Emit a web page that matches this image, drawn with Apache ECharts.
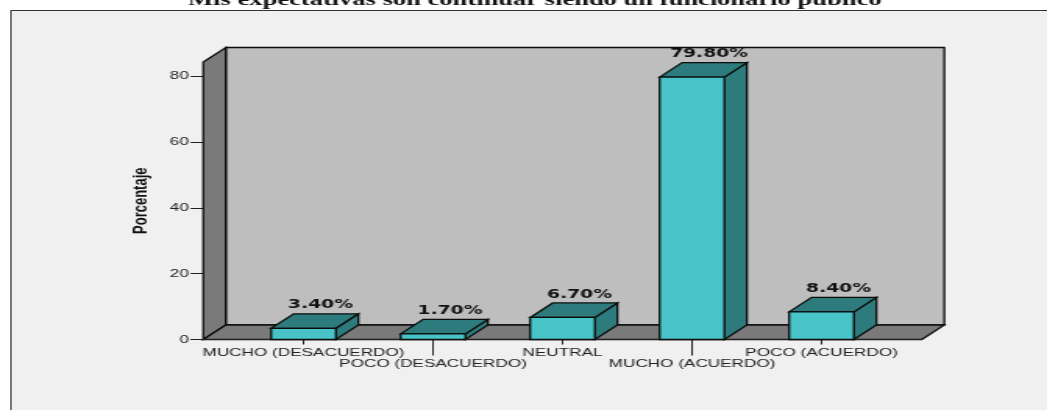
<!DOCTYPE html>
<html><head><meta charset="utf-8">
<script src="https://cdn.jsdelivr.net/npm/echarts@6/dist/echarts.min.js"></script>
<style>
html,body{margin:0;padding:0;background:#fff;overflow:hidden;width:1047px;height:410px}
#panel{position:absolute;left:10px;top:10px;width:1037px;height:400px;background:#f0f0f0;border-top:1px solid #333;border-left:2px solid #777;box-sizing:border-box}
#c{position:absolute;left:0;top:0;width:671px;height:410px;transform-origin:0 0;transform:scaleX(1.5604)}
</style></head><body>
<div id="panel"></div><div id="c"></div>
<script>
const titleText = 'Mis expectativas son continuar siendo un funcionario público';
const categories = ['MUCHO (DESACUERDO)','POCO (DESACUERDO)','NEUTRAL','MUCHO (ACUERDO)','POCO (ACUERDO)'];
const values = [3.4,1.7,6.7,79.8,8.4];
const yTicks = [0,20,40,60,80];
const yMax = 84.4;
const SX = 1047/671;
const depthX = 22.5/SX, depthY = 14.5, sideX = 35.5/SX;
const stroke = '#0c0c0c';
const chart = echarts.init(document.getElementById('c'), null, {renderer:'canvas'});
function poly(points, fill){return {type:'polygon',shape:{points},style:{fill,stroke,lineWidth:1.3}};}
chart.setOption({
  animation:false,
  title:{text:titleText,left:527/SX,textAlign:'center',top:-13,textStyle:{fontFamily:'Liberation Serif',fontWeight:'bold',fontSize:17,color:'#111'}},
  grid:{left:238.75/SX,width:647.5/SX,top:62,height:277.5},
  xAxis:{type:'category',data:categories,
    axisLine:{show:false},axisTick:{show:false},
    axisLabel:{interval:0,hideOverlap:false,margin:7.5,fontFamily:'Liberation Sans',fontSize:11,lineHeight:11,color:'#222',
      verticalAlign:'top',formatter:(v,i)=>i%2?'\n'+v:v}},
  yAxis:{type:'value',min:0,max:yMax,offset:35.75/SX,
    name:'Porcentaje',nameLocation:'middle',nameGap:33,nameRotate:90,
    nameTextStyle:{fontFamily:'Liberation Sans',fontWeight:'bold',fontSize:13,color:'#111'},
    splitLine:{show:false},axisLine:{show:false},
    axisTick:{show:true,length:8,customValues:yTicks,lineStyle:{color:'#222'}},
    axisLabel:{margin:9,customValues:yTicks,fontFamily:'Liberation Sans',fontSize:11,color:'#222'}},
  series:[
    {type:'custom',silent:true,z:1,data:[[0,0]],renderItem(params,api){
      const half=api.size([1,0])[0]/2;
      const fl=api.coord([0,0])[0]-half-sideX+0, fr=api.coord([categories.length-1,0])[0]+half+sideX;
      const y0=api.coord([0,0])[1], yT=api.coord([0,yMax])[1];
      const children=[
        poly([[fl+depthX,yT-depthY],[fr+depthX,yT-depthY],[fr+depthX,y0-depthY],[fl+depthX,y0-depthY]],'#bebebe'),
        poly([[fl,yT],[fl+depthX,yT-depthY],[fl+depthX,y0-depthY],[fl,y0]],'#7a7a7a'),
        poly([[fl,y0],[fl+depthX,y0-depthY],[fr+depthX,y0-depthY],[fr,y0]],'#7a7a7a'),
        {type:'line',shape:{x1:fl-8,y1:y0,x2:fr,y2:y0},style:{stroke:'#222',lineWidth:1}}
      ];
      return {type:'group',children};
    }},
    {type:'custom',silent:true,z:2,data:values.map((v,i)=>[i,v]),encode:{x:0,y:1},renderItem(params,api){
      const i=api.value(0), v=api.value(1);
      const base=api.coord([i,0]), top=api.coord([i,v]);
      const band=api.size([1,0])[0], w=band*0.5, x0=base[0]-w/2, x1=base[0]+w/2;
      const long=i%2===1;
      return {type:'group',children:[
        {type:'line',shape:{x1:base[0],y1:base[1],x2:base[0],y2:base[1]+(long?16:5)},style:{stroke:'#222',lineWidth:1}},
        poly([[x1,top[1]],[x1+depthX,top[1]-depthY],[x1+depthX,base[1]-depthY],[x1,base[1]]],'#2d7b7d'),
        poly([[x0,top[1]],[x0+depthX,top[1]-depthY],[x1+depthX,top[1]-depthY],[x1,top[1]]],'#2d7b7d'),
        poly([[x0,top[1]],[x1,top[1]],[x1,base[1]],[x0,base[1]]],'#48c4c8'),
        {type:'text',style:{x:base[0]+17/SX,y:top[1]-depthY-2.5,text:v.toFixed(2)+'%',align:'center',verticalAlign:'bottom',
          fontFamily:'DejaVu Sans',fontWeight:'bold',fontSize:12,fill:'#111'}}
      ]};
    }}
  ]
});
</script></body></html>
